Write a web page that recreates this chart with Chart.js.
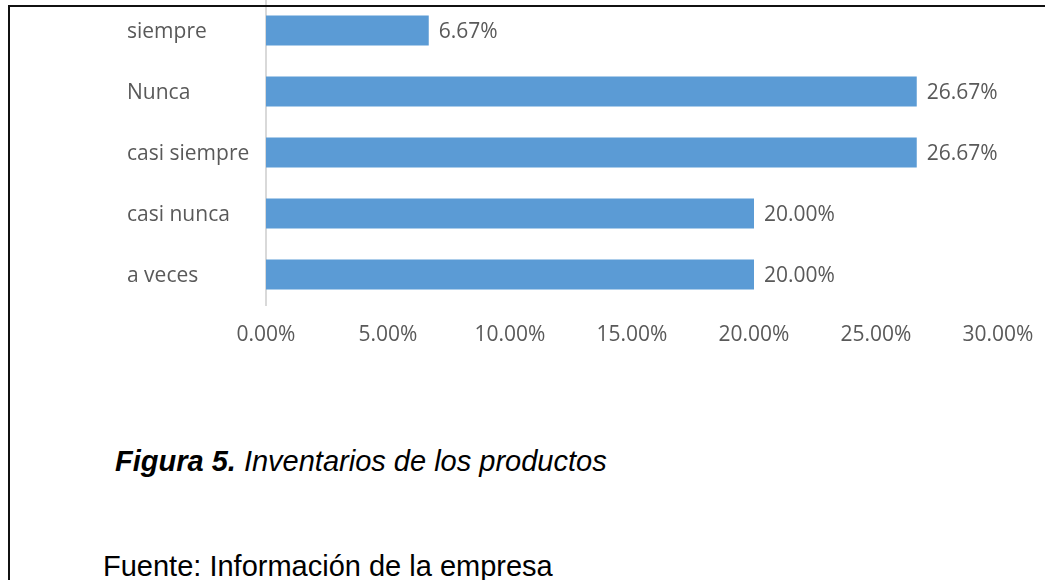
<!DOCTYPE html>
<html>
<head>
<meta charset="utf-8">
<script src="https://cdn.jsdelivr.net/npm/chart.js@4"></script>
<style>
  html, body { margin: 0; padding: 0; background: #fff; width: 1045px; height: 580px; overflow: hidden; }
  #wrap { position: absolute; left: 0; top: 0; width: 1045px; height: 350px; }
  .bt { position: absolute; left: 8px; top: 5px; width: 1037px; height: 2px; background: #111; z-index: 5; }
  .bl { position: absolute; left: 8px; top: 5px; width: 2px; height: 575px; background: #111; z-index: 5; }
  .cap { position: absolute; font-family: "Liberation Sans", Arial, sans-serif; font-size: 29px; line-height: 1; color: #000; white-space: nowrap; }
</style>
</head>
<body>
<div id="wrap"><canvas id="c" width="1045" height="350"></canvas></div>
<div class="bt"></div>
<div class="bl"></div>
<div class="cap" style="left:115px; top:447px; font-style:italic;"><b>Figura 5.</b> Inventarios de los productos</div>
<div class="cap" style="left:103px; top:552px;">Fuente: Información de la empresa</div>
<script>
const categories = ['siempre', 'Nunca', 'casi siempre', 'casi nunca', 'a veces'];
const values = [6.67, 26.67, 26.67, 20.00, 20.00];
const xTicks = [0, 5, 10, 15, 20, 25, 30];

const FONT = { family: '"Open Sans", sans-serif', size: 21 };
const GREY = '#595959';

const dataLabels = {
  id: 'dataLabels',
  afterDatasetsDraw(chart) {
    const ctx = chart.ctx;
    const meta = chart.getDatasetMeta(0);
    ctx.save();
    ctx.font = FONT.size + 'px ' + FONT.family;
    ctx.fillStyle = GREY;
    ctx.textAlign = 'left';
    ctx.textBaseline = 'middle';
    meta.data.forEach((bar, i) => {
      ctx.fillText(values[i].toFixed(2) + '%', bar.x + 10, bar.y + 2);
    });
    ctx.restore();
  }
};

new Chart(document.getElementById('c'), {
  type: 'bar',
  data: {
    labels: categories,
    datasets: [{
      data: values,
      backgroundColor: '#5B9BD5',
      borderWidth: 0,
      categoryPercentage: 1,
      barPercentage: 0.495
    }]
  },
  options: {
    indexAxis: 'y',
    responsive: false,
    animation: false,
    devicePixelRatio: 1,
    layout: { padding: { left: 127, right: 47, top: 0, bottom: 0 } },
    plugins: { legend: { display: false }, tooltip: { enabled: false } },
    scales: {
      x: {
        min: 0, max: 30,
        afterBuildTicks: (s) => { s.ticks = xTicks.map(v => ({ value: v })); },
        afterFit: (s) => { s.height = 45; s.paddingLeft = 0; s.paddingRight = 0; },
        grid: { display: false, drawTicks: false },
        border: { display: false },
        ticks: { color: GREY, font: FONT, padding: 17, callback: (v) => Number(v).toFixed(2) + '%' }
      },
      y: {
        afterFit: (s) => { s.width = 139; s.paddingTop = 0; s.paddingBottom = 0; },
        grid: { display: false, drawTicks: false },
        border: { display: true, color: '#d9d9d9', width: 2 },
        ticks: { color: GREY, font: FONT, crossAlign: 'far', padding: 0, labelOffset: 2 }
      }
    }
  },
  plugins: [dataLabels]
});
</script>
</body>
</html>
